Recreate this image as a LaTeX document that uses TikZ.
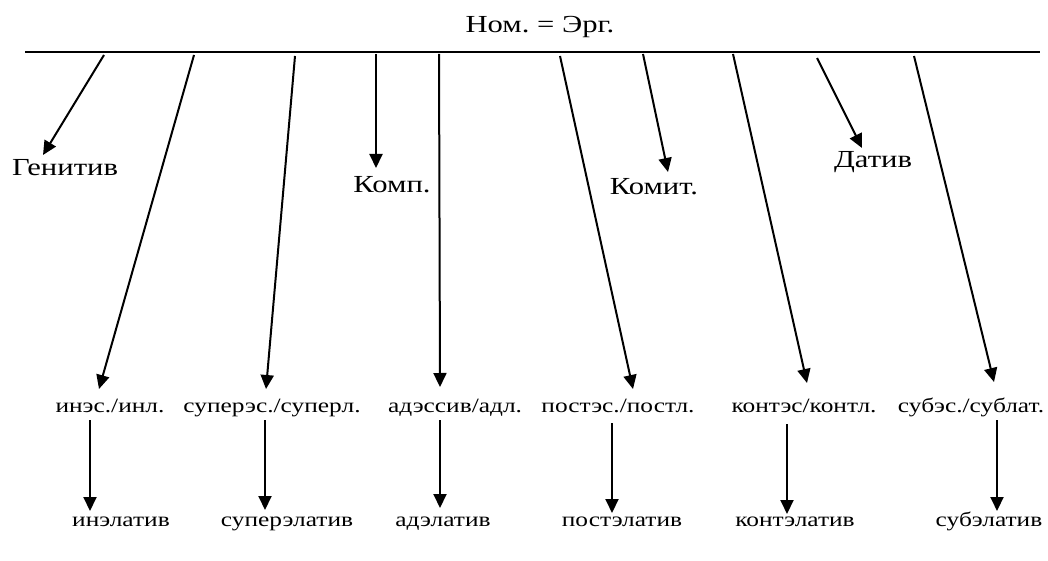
\documentclass[tikz,border=0pt]{standalone}
\usepackage{fontspec}
\setmainfont{Liberation Serif}
\usepackage{graphicx}
\usetikzlibrary{arrows.meta}
\frenchspacing
\newcommand{\stretchtxt}[1]{\scalebox{1.25}[1]{#1}}
\tikzset{
  big/.style={inner sep=0pt, anchor=base, font=\fontsize{24.5}{28}\selectfont},
  small/.style={inner sep=0pt, anchor=base, font=\fontsize{20.3}{24}\selectfont},
  arr/.style={line width=2pt, -{Triangle[length=14pt,width=13pt]}},
  bar/.style={line width=2pt}
}
\begin{document}
\begin{tikzpicture}[x=1pt,y=-1pt]
\useasboundingbox (0,0) rectangle (1048,561);
% top label and line
\node[big] (nom) at (540,33) {\stretchtxt{Ном. = Эрг.}};
\coordinate (L) at (25,52);
\coordinate (R) at (1040,52);
\draw[bar] (L) -- (R);
% middle labels
\node[big] (gen) at (65,176) {\stretchtxt{Генитив}};
\node[big] (komp) at (392,193) {\stretchtxt{Комп.}};
\node[big] (komit) at (654,195) {\stretchtxt{Комит.}};
\node[big] (dat) at (873,168) {\stretchtxt{Датив}};
% row 1 labels
\node[small] (ines) at (110,412) {\stretchtxt{инэс./инл.}};
\node[small] (super) at (272,412) {\stretchtxt{суперэс./суперл.}};
\node[small] (ades) at (455,412) {\stretchtxt{адэссив/адл.}};
\node[small] (post) at (618,412) {\stretchtxt{постэс./постл.}};
\node[small] (kont) at (804,412) {\stretchtxt{контэс/контл.}};
\node[small] (sub) at (971,412) {\stretchtxt{субэс./сублат.}};
% row 2 labels
\node[small] (inel) at (121,526) {\stretchtxt{инэлатив}};
\node[small] (superel) at (287,526) {\stretchtxt{суперэлатив}};
\node[small] (adel) at (443,526) {\stretchtxt{адэлатив}};
\node[small] (postel) at (622,526) {\stretchtxt{постэлатив}};
\node[small] (kontel) at (795,526) {\stretchtxt{контэлатив}};
\node[small] (subel) at (989,526) {\stretchtxt{субэлатив}};
% start points on the line
\coordinate (sGen) at (104,55);
\coordinate (sInes) at (194,55);
\coordinate (sSuper) at (295,56);
\coordinate (sKomp) at (376,54);
\coordinate (sAdes) at (439,54);
\coordinate (sPost) at (560,56);
\coordinate (sKomit) at (643,54);
\coordinate (sKont) at (733,54);
\coordinate (sDat) at (817,58);
\coordinate (sSub) at (914,56);
% tips
\coordinate (tGen) at (43,155);
\coordinate (tKomp) at (376,168);
\coordinate (tKomit) at (668,172);
\coordinate (tDat) at (862,148);
\coordinate (tInes) at (99,389);
\coordinate (tSuper) at (266,389);
\coordinate (tAdes) at (440,387);
\coordinate (tPost) at (633,389);
\coordinate (tKont) at (807,383);
\coordinate (tSub) at (994,382);
\draw[arr] (sGen) -- (tGen);
\draw[arr] (sKomp) -- (tKomp);
\draw[arr] (sKomit) -- (tKomit);
\draw[arr] (sDat) -- (tDat);
\draw[arr] (sInes) -- (tInes);
\draw[arr] (sSuper) -- (tSuper);
\draw[arr] (sAdes) -- (tAdes);
\draw[arr] (sPost) -- (tPost);
\draw[arr] (sKont) -- (tKont);
\draw[arr] (sSub) -- (tSub);
% second-level arrows
\coordinate (a1) at (90,420); \coordinate (b1) at (90,511);
\coordinate (a2) at (265,420); \coordinate (b2) at (265,510);
\coordinate (a3) at (440,420); \coordinate (b3) at (440,508);
\coordinate (a4) at (612,423); \coordinate (b4) at (612,513);
\coordinate (a5) at (787,424); \coordinate (b5) at (787,514);
\coordinate (a6) at (997,420); \coordinate (b6) at (997,511);
\draw[arr] (a1) -- (b1);
\draw[arr] (a2) -- (b2);
\draw[arr] (a3) -- (b3);
\draw[arr] (a4) -- (b4);
\draw[arr] (a5) -- (b5);
\draw[arr] (a6) -- (b6);
\end{tikzpicture}
\end{document}
